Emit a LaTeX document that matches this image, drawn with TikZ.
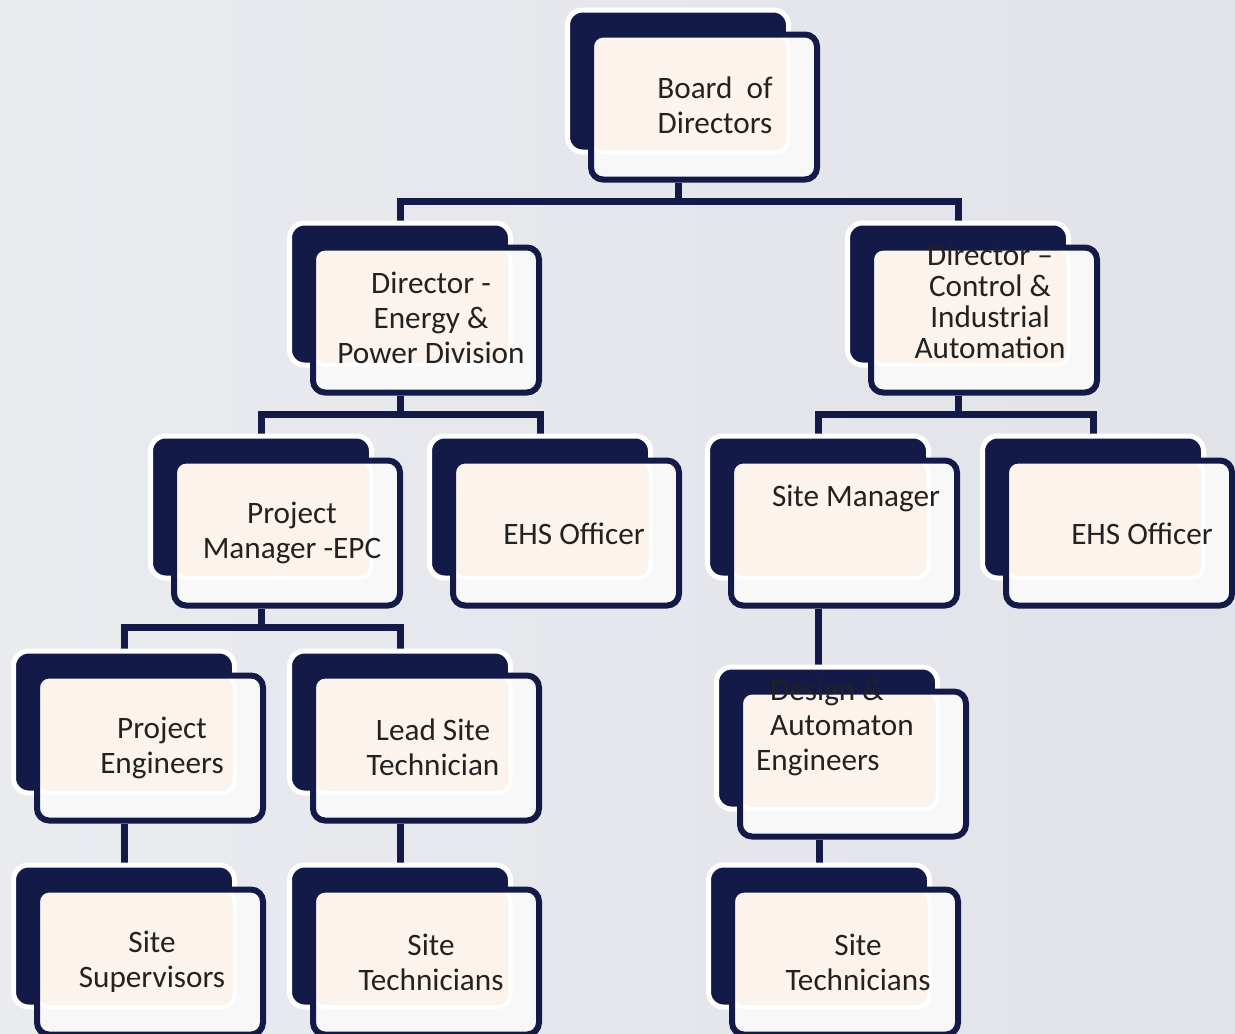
\documentclass[tikz,border=0pt]{standalone}
\usepackage{fontspec}
\setmainfont{Carlito}
\usepackage{tikz}
\usetikzlibrary{
  positioning,
  calc,
  backgrounds
}
\usepackage{xcolor}
\definecolor{deepNavy}{RGB}{20,26,72}
\definecolor{paleCream}{RGB}{252,243,236}
\definecolor{softWhite}{RGB}{249,248,249}
\definecolor{greyLeft}{RGB}{234,235,239}
\definecolor{greyRight}{RGB}{226,227,233}
\definecolor{inkGrey}{RGB}{34,34,34}
\tikzset{
  back box/.style={
    fill=deepNavy,
    draw=white,
    line width=2.5pt,
    rounded corners=7.5pt,
    minimum width=110.5pt,
    minimum height=71pt,
    inner sep=0pt
  },
  front box/.style={
    fill=softWhite,
    draw=deepNavy,
    line width=3pt,
    rounded corners=6pt,
    minimum width=113pt,
    minimum height=72.5pt,
    inner sep=0pt,
    path picture={
      \fill[paleCream, draw=white, line width=2pt]
      (path picture bounding box.north west) rectangle
      ($(path picture bounding box.south east)+(-28.5,-27.5)$);
    }
  },
  box text/.style={
    text=inkGrey,
    font=\fontsize{15.6}{17.5}\selectfont,
    inner sep=0pt,
    align=center
  },
  link/.style={
    draw=deepNavy,
    line width=3.5pt
  }
}

\begin{document}
\begin{tikzpicture}[x=0.5pt, y=-0.5pt]

  \useasboundingbox (0,0) rectangle (1235,1033);
  \begin{pgfonlayer}{background}
    \shade[left color=greyLeft, right color=greyRight] (0,0) rectangle (1235,1033);
  \end{pgfonlayer}
  \clip (0,0) rectangle (1235,1033);

  \foreach \nm/\px/\py in {board/704/107, energy/426/320, control/984/320,
    pmEpc/287/533, ehsA/566/533, siteMgr/844/533, ehsB/1119/533,
    projEng/150/748, leadTech/426/748, designEng/853/764,
    siteSup/150/962, siteTechA/426/962, siteTechB/845/962}{
    \node[back box] (\nm-b) at ($(\px,\py)+(-26,-26)$) {};
    \node[front box] (\nm) at (\px,\py) {};
  }

  \node[box text] (board-t) at ($(board)+(11,-2)$) {Board\ \ of\\Directors};
  \node[box text] (energy-t) at ($(energy)+(5,-2)$) {Director -\\Energy \&\\Power Division};
  \node[box text, font=\fontsize{15.6}{15.5}\selectfont] (control-t) at ($(control)+(6,-19)$)
    {Director –\\Control \&\\Industrial\\Automation};
  \node[box text] (pmEpc-t) at ($(pmEpc)+(5,0)$) {Project\\Manager -EPC};
  \node[box text] (ehsA-t) at ($(ehsA)+(8,1)$) {EHS Officer};
  \node[box text] (siteMgr-t) at ($(siteMgr)+(12,-35)$) {Site Manager};
  \node[box text] (ehsB-t) at ($(ehsB)+(23,1)$) {EHS Officer};
  \node[box text] (projEng-t) at ($(projEng)+(12,0)$) {Project\\Engineers};
  \node[box text] (leadTech-t) at ($(leadTech)+(7,-1)$) {Lead Site\\Technician};
  \node[box text, align=left] (designEng-t) at ($(designEng)+(-18,-37)$)
    {\hspace*{7pt}Design \&\\\hspace*{7pt}Automaton\\Engineers};
  \node[box text] (siteSup-t) at ($(siteSup)+(2,0)$) {Site\\Supervisors};
  \node[box text] (siteTechA-t) at ($(siteTechA)+(5,0)$) {Site\\Technicians};
  \node[box text] (siteTechB-t) at ($(siteTechB)+(13,0)$) {Site\\Technicians};

  \begin{pgfonlayer}{background}
    \draw[link] (board-b |- board.south) -- ++(0,19) coordinate (boardBar) -| (energy-b.north);
    \draw[link] (boardBar) -| (control-b.north);

    \draw[link] (energy-b |- energy.south) -- ++(0,19) coordinate (energyBar) -| (pmEpc-b.north);
    \draw[link] (energyBar) -| (ehsA-b.north);

    \draw[link] (control-b |- control.south) -- ++(0,19) coordinate (controlBar) -| (siteMgr-b.north);
    \draw[link] (controlBar) -| (ehsB-b.north);

    \draw[link] (pmEpc-b |- pmEpc.south) -- ++(0,19) coordinate (pmBar) -| (projEng-b.north);
    \draw[link] (pmBar) -| (leadTech-b.north);

    \draw[link] (siteMgr-b |- siteMgr.south) -- (siteMgr-b |- designEng-b.north);
    \draw[link] (projEng-b |- projEng.south) -- (siteSup-b.north);
    \draw[link] (leadTech-b |- leadTech.south) -- (siteTechA-b.north);
    \draw[link] (siteTechB-b |- designEng.south) -- (siteTechB-b.north);
  \end{pgfonlayer}

\end{tikzpicture}
\end{document}
